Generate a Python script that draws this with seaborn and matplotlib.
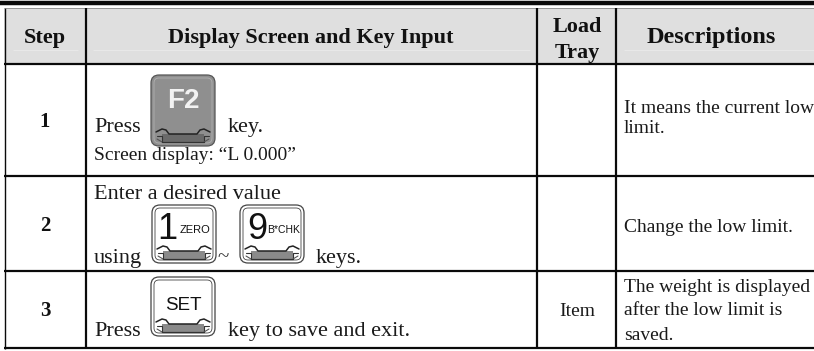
import matplotlib
matplotlib.use('Agg')
import matplotlib.pyplot as plt
from matplotlib.patches import FancyBboxPatch
import seaborn as sns

headers = ['Step', 'Display Screen and Key Input', 'Load\nTray', 'Descriptions']
steps = ['1', '2', '3']
column_lines = [86, 537, 616]
row_lines = [64, 176, 271, 348]

sns.set_theme(style='white')
plt.rcParams['font.family'] = ['Liberation Serif', 'DejaVu Serif']

fig, ax = plt.subplots(figsize=(8.14, 3.51), dpi=100)
ax.set_position([0, 0, 1, 1])
ax.set_xlim(0, 814)
ax.set_ylim(351, 0)
ax.axis('off')


def line(xs, ys, lw=2.0, color='#0a0a0a'):
    sns.lineplot(x=xs, y=ys, ax=ax, color=color, linewidth=lw, sort=False,
                 estimator=None, legend=False, solid_capstyle='butt')


def key(x, y, w, h, face='white', edge='#444444', ring='#444444', bar='#8a8a8a'):
    # outer cap, inner cap and the lip at the bottom of the key
    ax.add_patch(FancyBboxPatch((x + 3, y + 3), w - 6, h - 6,
                                boxstyle='round,pad=3,rounding_size=8',
                                fc=face, ec=edge, lw=0.9, zorder=3))
    ax.add_patch(FancyBboxPatch((x + 4, y + 4), w - 8, h - 8,
                                boxstyle='round,pad=1,rounding_size=5',
                                fc=face, ec=ring, lw=0.6, zorder=3))
    b = y + h
    ax.fill_between([x + 11, x + w - 11], b - 12, b - 4, color=bar, lw=0, zorder=3.5)
    ax.plot([x + 5, x + 11, x + 15, x + 18, x + w - 18, x + w - 15, x + w - 11, x + w - 5],
            [b - 14, b - 17, b - 16, b - 12, b - 12, b - 16, b - 17, b - 14],
            color='#222222', lw=1.1, zorder=4)
    ax.plot([x + 6, x + 11, x + 11], [b - 10, b - 10, b - 4], color='#333333', lw=0.8, zorder=4)
    ax.plot([x + w - 6, x + w - 11, x + w - 11], [b - 10, b - 10, b - 4], color='#333333', lw=0.8, zorder=4)
    ax.plot([x + 6, x + 11], [b - 7, b - 4], color='#555555', lw=0.8, zorder=4)
    ax.plot([x + w - 6, x + w - 11], [b - 7, b - 4], color='#555555', lw=0.8, zorder=4)
    ax.plot([x + 11, x + w - 11], [b - 4, b - 4], color='#333333', lw=0.9, zorder=4)


# header band and the top rule
ax.fill_between([4, 814], 8, 64, color='#dfdfdf', lw=0, zorder=0)
for a, b in [(13, 78), (93, 530), (624, 814)]:
    line([a, b], [50, 50], lw=0.7, color='#e9e9e9')
line([0, 814], [3, 3], lw=3.2)

# grid
line([4.5, 4.5], [8, 349], lw=1.0)
line([4, 814], [8, 8], lw=0.5, color='#777777')
for x in column_lines:
    line([x, x], [8, 349], lw=1.6)
for y in row_lines:
    line([4, 814], [y, y], lw=1.6)

# header text
head = dict(fontsize=16, fontweight='bold', color='#111111', va='baseline')
ax.text(45, 43, headers[0], ha='center', **head)
ax.text(311, 43, headers[1], ha='center', **head)
ax.text(577, 32, headers[2].split('\n')[0], ha='center', **head)
ax.text(577, 58, headers[2].split('\n')[1], ha='center', **head)
ax.text(711, 43, headers[3], ha='center', fontsize=17.5, fontweight='bold', color='#111111', va='baseline')

# step numbers
for s, y in zip(steps, [127, 231, 316]):
    ax.text(45, y, s, ha='center', va='baseline', fontsize=15, fontweight='bold', color='#111111')

body = dict(fontsize=16, color='#1a1a1a', va='baseline')
ax.text(94, 132, 'Press', **body)
ax.text(228, 132, 'key.', **body)
ax.text(94, 160, 'Screen display: \u201cL 0.000\u201d', fontsize=14, color='#1a1a1a', va='baseline')
ax.text(94, 199, 'Enter a desired value', **body)
ax.text(94, 263, 'using', **body)
ax.text(316, 263, 'keys.', **body)
ax.text(94, 336, 'Press', **body)
ax.text(228, 336, 'key to save and exit.', **body)
ax.text(217, 262, '~', fontsize=15, color='#333333', va='baseline', zorder=5)
ax.text(577, 316, 'Item', ha='center', fontsize=14, color='#1a1a1a', va='baseline')

desc = dict(fontsize=14, color='#1a1a1a', va='baseline')
ax.text(624, 113, 'It means the current low', **desc)
ax.text(624, 133, 'limit.', **desc)
ax.text(624, 232, 'Change the low limit.', **desc)
ax.text(624, 292, 'The weight is displayed', **desc)
ax.text(624, 315, 'after the low limit is', **desc)
ax.text(624, 340, 'saved.', **desc)

# keys
keyfont = ['Liberation Sans', 'DejaVu Sans']
key(151, 75, 64, 71, face='#8f8f8f', edge='#555555', ring='#b0b0b0', bar='#6a6a6a')
ax.text(183.5, 108, 'F2', ha='center', va='baseline', color='#f2f2f2', fontsize=20,
        fontweight='bold', family=keyfont, zorder=5)
key(152, 205, 64, 58)
ax.text(167, 239, '1', ha='center', va='baseline', color='#111111', fontsize=26,
        family=keyfont, zorder=5)
ax.text(195.5, 233, 'ZERO', ha='center', va='baseline', color='#111111', fontsize=8,
        family=keyfont, zorder=5)
key(240, 205, 64, 58)
ax.text(257, 239, '9', ha='center', va='baseline', color='#111111', fontsize=26,
        family=keyfont, zorder=5)
ax.text(284, 233, 'B*CHK', ha='center', va='baseline', color='#111111', fontsize=7.5,
        family=keyfont, zorder=5)
key(151, 277, 64, 59)
ax.text(183, 310, 'SET', ha='center', va='baseline', color='#111111', fontsize=13.5,
        family=keyfont, zorder=5)

fig.savefig('out.png', dpi=100)
